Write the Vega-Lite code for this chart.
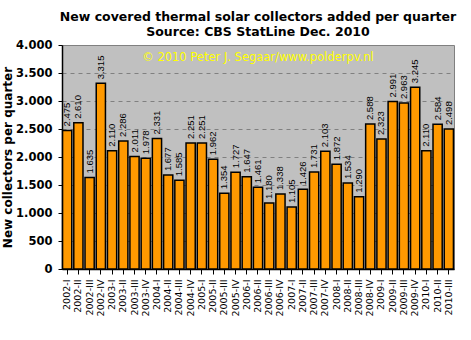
{
  "$schema": "https://vega.github.io/schema/vega-lite/v6.json",
  "width": 392,
  "height": 224,
  "autosize": {"type": "none"},
  "padding": {"left": 62, "top": 45, "right": 17, "bottom": 71},
  "background": "white",
  "title": {
    "text": ["New covered thermal solar collectors added per quarter", "Source: CBS StatLine Dec. 2010"],
    "font": "DejaVu Sans",
    "fontSize": 12.5,
    "fontWeight": "bold",
    "color": "black",
    "lineHeight": 15,
    "offset": 1,
    "anchor": "middle"
  },
  "config": {
    "locale": {"number": {"decimal": ",", "thousands": ".", "grouping": [3], "currency": ["€", ""]}},
    "view": {"fill": "#C0C0C0", "stroke": "#808080", "strokeWidth": 1}
  },
  "data": {
    "values": [
      {"q": "2002-I", "v": 2475}, {"q": "2002-II", "v": 2610}, {"q": "2002-III", "v": 1635}, {"q": "2002-IV", "v": 3315},
      {"q": "2003-I", "v": 2110}, {"q": "2003-II", "v": 2286}, {"q": "2003-III", "v": 2011}, {"q": "2003-IV", "v": 1978},
      {"q": "2004-I", "v": 2331}, {"q": "2004-II", "v": 1677}, {"q": "2004-III", "v": 1585}, {"q": "2004-IV", "v": 2251},
      {"q": "2005-I", "v": 2251}, {"q": "2005-II", "v": 1962}, {"q": "2005-III", "v": 1354}, {"q": "2005-IV", "v": 1727},
      {"q": "2006-I", "v": 1647}, {"q": "2006-II", "v": 1461}, {"q": "2006-III", "v": 1180}, {"q": "2006-IV", "v": 1338},
      {"q": "2007-I", "v": 1105}, {"q": "2007-II", "v": 1426}, {"q": "2007-III", "v": 1731}, {"q": "2007-IV", "v": 2103},
      {"q": "2008-I", "v": 1872}, {"q": "2008-II", "v": 1534}, {"q": "2008-III", "v": 1290}, {"q": "2008-IV", "v": 2588},
      {"q": "2009-I", "v": 2323}, {"q": "2009-II", "v": 2991}, {"q": "2009-III", "v": 2963}, {"q": "2009-IV", "v": 3245},
      {"q": "2010-I", "v": 2110}, {"q": "2010-II", "v": 2584}, {"q": "2010-III", "v": 2498}
    ]
  },
  "encoding": {
    "x": {
      "field": "q", "type": "nominal", "sort": null,
      "scale": {"paddingInner": 0.18, "paddingOuter": 0.05},
      "axis": {
        "title": null, "labelAngle": -90, "labelAlign": "right", "labelBaseline": "middle",
        "labelFont": "DejaVu Sans", "labelFontSize": 9.5, "labelColor": "black",
        "labelPadding": 5, "tickColor": "black", "tickSize": 5, "domainColor": "black", "domainWidth": 1.5,
        "grid": false, "labelOverlap": false
      }
    },
    "y": {
      "field": "v", "type": "quantitative",
      "scale": {"domain": [0, 4000], "nice": false},
      "axis": {
        "title": "New collectors per quarter", "titleFont": "DejaVu Sans", "titleFontSize": 12, "titleFontWeight": "bold",
        "titleColor": "black", "titlePadding": 1,
        "values": [0, 500, 1000, 1500, 2000, 2500, 3000, 3500, 4000], "format": ",d",
        "labelFont": "DejaVu Sans", "labelFontSize": 11.5, "labelFontWeight": "bold", "labelColor": "black",
        "labelPadding": 6, "tickColor": "black", "tickSize": 4, "domainColor": "black", "domainWidth": 1.5,
        "grid": true, "gridColor": "#808080", "gridDash": [4, 4], "gridWidth": 1
      }
    }
  },
  "layer": [
    {
      "mark": {"type": "bar", "color": "#FF9900", "stroke": "black", "strokeWidth": 1.5}
    },
    {
      "mark": {"type": "text", "angle": 270, "align": "left", "baseline": "middle", "dx": 4, "font": "Liberation Sans", "fontSize": 9.5, "color": "black"},
      "encoding": {"text": {"field": "v", "type": "quantitative", "format": ",d"}}
    },
    {
      "data": {"values": [{"q": "2006-II", "v": 3770, "t": "© 2010 Peter J. Segaar/www.polderpv.nl"}]},
      "mark": {"type": "text", "align": "center", "baseline": "middle", "font": "DejaVu Sans", "fontSize": 11.5, "color": "#FFFF00"},
      "encoding": {"text": {"field": "t", "type": "nominal"}}
    }
  ]
}
